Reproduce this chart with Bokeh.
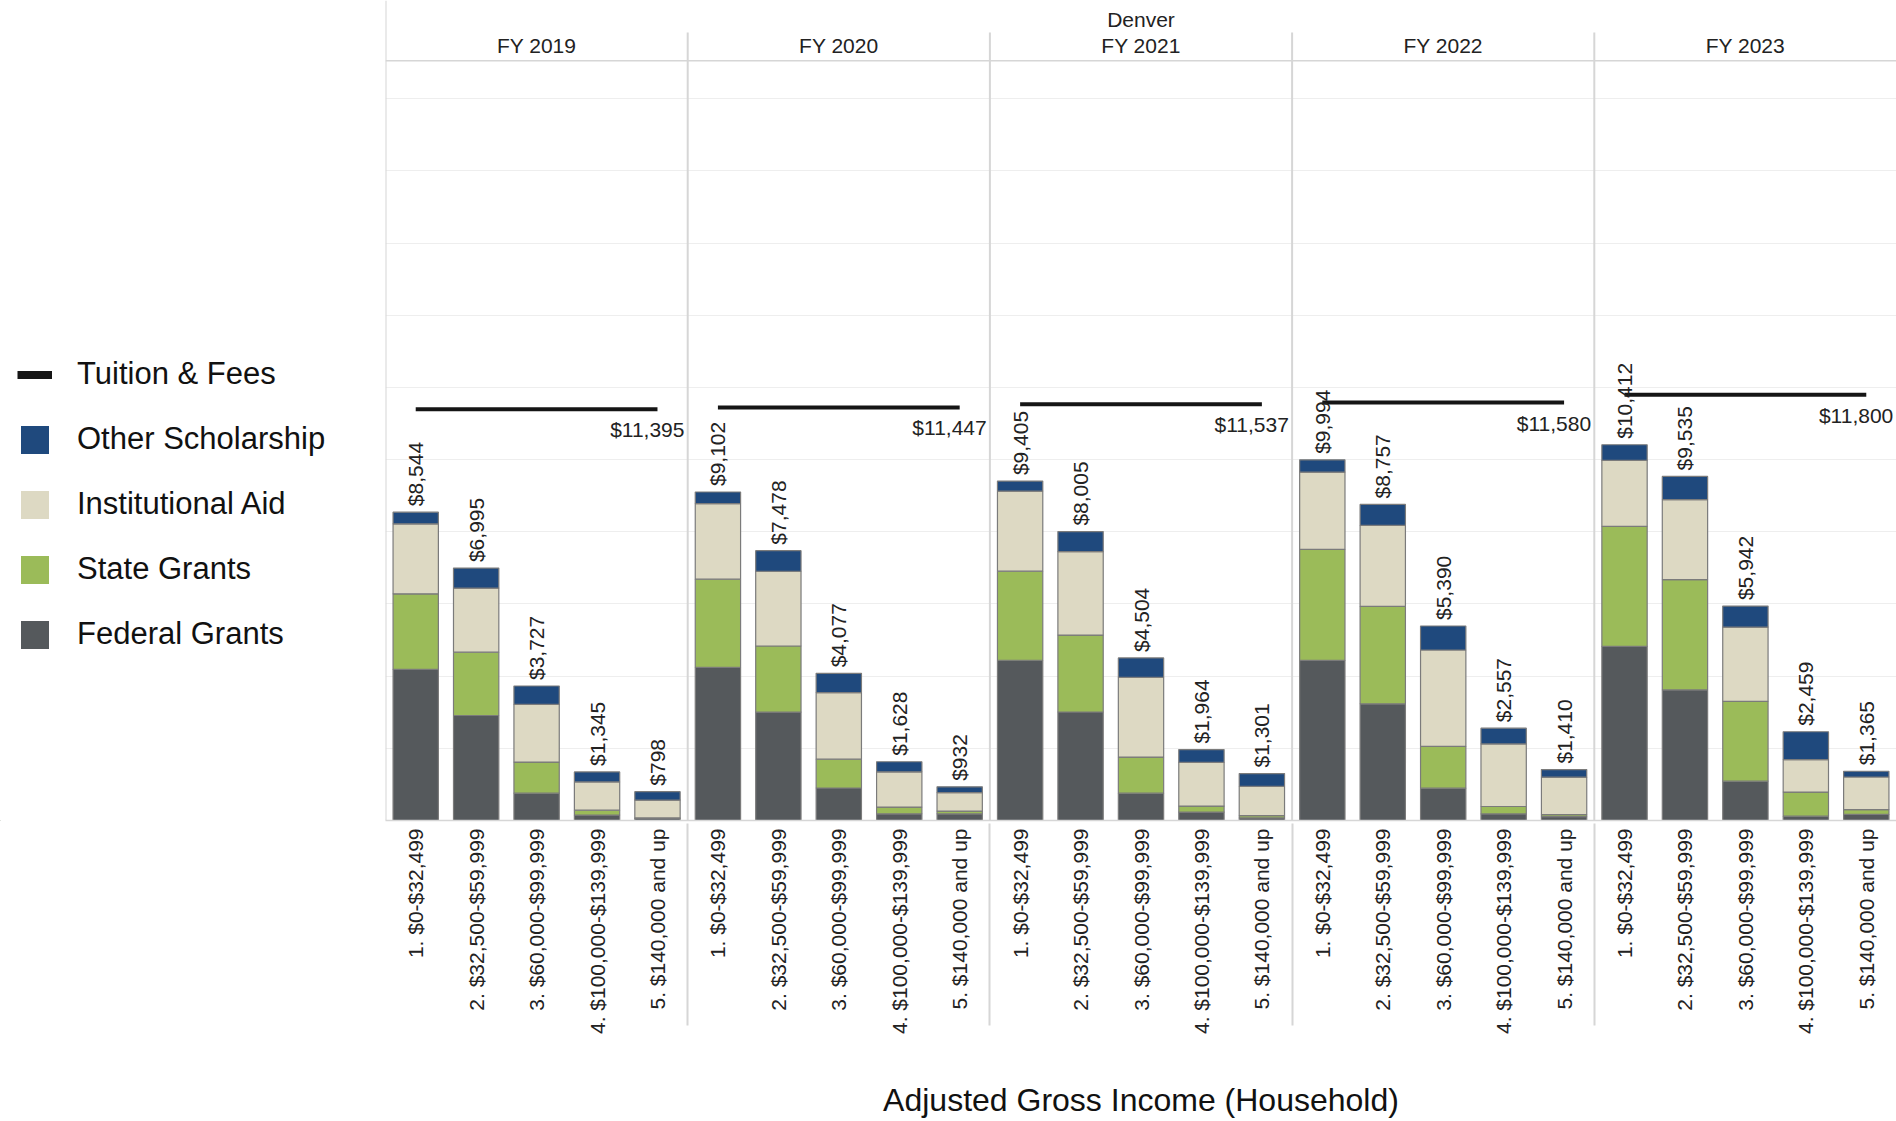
import math
from bokeh.plotting import figure
from bokeh.layouts import row
from bokeh.models import (FactorRange, Range1d, FixedTicker, Legend, LegendItem,
                          Span, ColumnDataSource)
from bokeh.core.properties import value
from bokeh.embed import file_html
from bokeh.resources import INLINE

# ---------------- data ----------------
campus = "Denver"
years = ["FY 2019", "FY 2020", "FY 2021", "FY 2022", "FY 2023"]
income = ["1. $0-$32,499", "2. $32,500-$59,999", "3. $60,000-$99,999",
          "4. $100,000-$139,999", "5. $140,000 and up"]

# one value per (year, income band), years in order, bands in order
federal_grants = [4190, 2910, 758, 150, 55,
                  4242, 3004, 900, 185, 185,
                  4440, 3007, 758, 233, 70,
                  4435, 3232, 897, 183, 108,
                  4823, 3617, 1090, 120, 170]
state_grants = [2090, 1755, 860, 135, 15,
                2444, 1831, 800, 186, 76,
                2470, 2130, 999, 168, 66,
                3076, 2700, 1159, 205, 55,
                3326, 3058, 2210, 668, 130]
institutional_aid = [1940, 1775, 1600, 785, 495,
                     2092, 2072, 1843, 978, 512,
                     2218, 2312, 2211, 1208, 807,
                     2143, 2244, 2668, 1733, 1038,
                     1830, 2215, 2060, 900, 905]
other_scholarship = [324, 555, 509, 275, 233,
                     324, 571, 534, 279, 159,
                     277, 556, 536, 355, 358,
                     340, 581, 666, 436, 209,
                     433, 645, 582, 771, 160]
total_aid = [8544, 6995, 3727, 1345, 798,
             9102, 7478, 4077, 1628, 932,
             9405, 8005, 4504, 1964, 1301,
             9994, 8757, 5390, 2557, 1410,
             10412, 9535, 5942, 2459, 1365]
tuition_fees = [11395, 11447, 11537, 11580, 11800]

series_names = ["Tuition & Fees", "Other Scholarship", "Institutional Aid",
                "State Grants", "Federal Grants"]

# ---------------- styling ----------------
FONT = "Liberation Sans"
C_TUI = "#151515"
C_FED = "#55595c"
C_STATE = "#9bbb59"
C_INST = "#ddd9c3"
C_OTHER = "#1f497d"
SEP = "#d6d6d6"
TXT = "#222222"

Y_TOP = 22722          # top of frame (header area lives above the 20000 grid line)
HEADER_LINE = 21055
HEADER_TXT = 21472
CAMPUS_TXT = 22208
SEP_TOP = 21833

factors = [(y, c) for y in years for c in income]
src = ColumnDataSource(dict(
    x=factors,
    federal=federal_grants,
    state=state_grants,
    inst=institutional_aid,
    other=other_scholarship,
    total=total_aid,
    label=[f"${v:,}" for v in total_aid],
))

p = figure(
    x_range=FactorRange(*factors, factor_padding=0, group_padding=0,
                        subgroup_padding=0, range_padding=0),
    y_range=Range1d(0, Y_TOP),
    width=1511, height=1121,
    output_backend="svg", toolbar_location=None,
    min_border_left=0, min_border_right=0, min_border_top=0, min_border_bottom=0,
)
p.outline_line_color = None
p.background_fill_color = "white"
p.xgrid.visible = False
p.yaxis.ticker = FixedTicker(ticks=list(range(2000, 20001, 2000)))
p.ygrid.ticker = FixedTicker(ticks=list(range(2000, 20001, 2000)))
p.ygrid.grid_line_color = "#eeeeee"
p.ygrid.grid_line_width = 1
p.yaxis.visible = False

# panel separators
sep_x = [(y, income[0], -0.5) for y in years]
sep_top = [Y_TOP] + [SEP_TOP] * (len(years) - 1)
p.segment(x0=sep_x, y0=[0] * len(years), x1=sep_x, y1=sep_top,
          line_color=SEP, line_width=2)
p.add_layout(Span(location=HEADER_LINE, dimension="width",
                  line_color=SEP, line_width=1.5))

# stacked bars
rs = p.vbar_stack(["federal", "state", "inst", "other"], x="x", width=0.75,
                  color=[C_FED, C_STATE, C_INST, C_OTHER],
                  line_color="#7b7b7b", line_width=1.2, source=src)

# tuition line
p.segment(x0=[(y, income[0]) for y in years], y0=tuition_fees,
          x1=[(y, income[-1]) for y in years], y1=tuition_fees,
          line_color=C_TUI, line_width=4)
p.text(x=[(y, income[-1]) for y in years], y=tuition_fees,
       text=[f"${v:,}" for v in tuition_fees],
       x_offset=27, y_offset=9, text_align="right", text_baseline="top",
       text_font=value(FONT), text_font_size="21px", text_color=TXT)

# total labels
p.text(x="x", y="total", text="label", source=src, angle=math.pi / 2,
       text_align="left", text_baseline="middle", y_offset=-6,
       text_font=value(FONT), text_font_size="21px", text_color=TXT)

# header texts
p.text(x=[(y, income[2]) for y in years], y=[HEADER_TXT] * len(years), text=years,
       text_align="center", text_baseline="middle",
       text_font=value(FONT), text_font_size="21px", text_color=TXT)
p.text(x=[(years[2], income[2])], y=[CAMPUS_TXT], text=[campus],
       text_align="center", text_baseline="middle",
       text_font=value(FONT), text_font_size="21px", text_color=TXT)

# x axis
ax = p.xaxis[0]
ax.major_label_orientation = math.pi / 2
ax.major_label_text_font = FONT
ax.major_label_text_font_size = "21px"
ax.major_label_text_color = TXT
ax.major_label_standoff = 2
ax.major_tick_line_color = None
ax.minor_tick_line_color = None
ax.axis_line_color = SEP
ax.axis_line_width = 1.5
ax.group_text_font_size = "1px"
ax.group_text_color = None
ax.separator_line_color = SEP
ax.separator_line_width = 2
ax.axis_label = "Adjusted Gross Income (Household)"
ax.axis_label_text_font = FONT
ax.axis_label_text_font_size = "32px"
ax.axis_label_text_font_style = "normal"
ax.axis_label_text_color = "#111111"
ax.axis_label_standoff = 45

# ---------------- legend panel ----------------
lf = figure(width=385, height=1121, x_range=Range1d(0, 1), y_range=Range1d(0, 1),
            output_backend="svg", toolbar_location=None,
            min_border_left=0, min_border_right=0, min_border_top=0,
            min_border_bottom=0)
lf.axis.visible = False
lf.grid.visible = False
lf.outline_line_color = None
# legend proxies (kept outside the visible range of this panel)
leg_tui = lf.line(x=[-5, -4], y=[-5, -5], line_color=C_TUI, line_width=8)
leg_other = lf.vbar(x=[-5], top=[-5], width=0.1, fill_color=C_OTHER, line_color=None)
leg_inst = lf.vbar(x=[-5], top=[-5], width=0.1, fill_color=C_INST, line_color=None)
leg_state = lf.vbar(x=[-5], top=[-5], width=0.1, fill_color=C_STATE, line_color=None)
leg_fed = lf.vbar(x=[-5], top=[-5], width=0.1, fill_color=C_FED, line_color=None)
legend = Legend(
    items=[LegendItem(label=n, renderers=[r]) for n, r in
           zip(series_names, [leg_tui, leg_other, leg_inst, leg_state, leg_fed])],
    location=(17, 168),
    glyph_width=35, glyph_height=35, label_height=35,
    spacing=29, padding=0, margin=0, label_standoff=25,
    label_text_font=FONT, label_text_font_size="31px", label_text_color="#111111",
    border_line_color=None, background_fill_alpha=0,
)
lf.add_layout(legend)

layout = row(lf, p, spacing=0)
open("out.html", "w").write(file_html(layout, INLINE))
